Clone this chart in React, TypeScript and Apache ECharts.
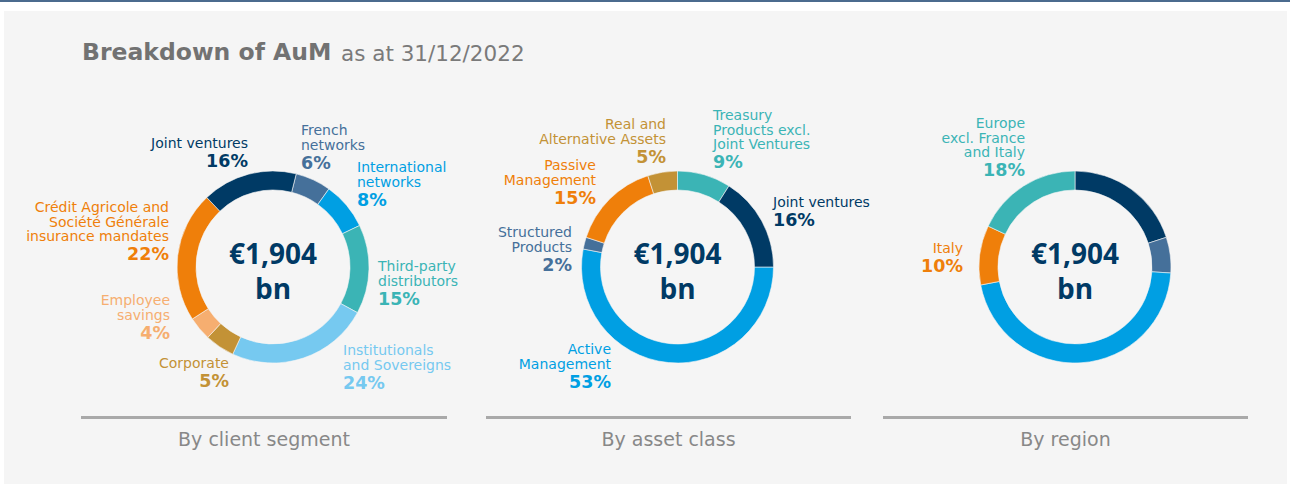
import React, { useEffect, useRef } from "react";
import * as echarts from "echarts";

// ---- data ----
const totalLabel = "€1,904";
const totalUnit = "bn";

const clientNames = [
  "French\nnetworks",
  "International\nnetworks",
  "Third-party\ndistributors",
  "Institutionals\nand Sovereigns",
  "Corporate",
  "Employee\nsavings",
  "Crédit Agricole and\nSociété Générale\ninsurance mandates",
  "Joint ventures",
];
const clientValues = [6, 8, 15, 24, 5, 4, 22, 16];

const assetNames = [
  "Active\nManagement",
  "Structured\nProducts",
  "Passive\nManagement",
  "Real and\nAlternative Assets",
  "Treasury\nProducts excl.\nJoint Ventures",
  "Joint ventures",
];
const assetValues = [53, 2, 15, 5, 9, 16];

const regionNames = ["Asia", "Rest of the world", "France", "Italy", "Europe\nexcl. France\nand Italy"];
const regionValues = [20, 6, 46, 10, 18];
const regionLabelShown = [false, false, false, true, true];

const panelTitles = ["By client segment", "By asset class", "By region"];

// ---- styles ----
const NAVY = "#003a65";
const GREYBLUE = "#45709a";
const BLUE = "#009fe3";
const TEAL = "#3bb4b5";
const LIGHTBLUE = "#76c9f0";
const GOLD = "#c39236";
const LIGHTORANGE = "#f6ae70";
const ORANGE = "#ef7f0a";

const clientColors = [GREYBLUE, BLUE, TEAL, LIGHTBLUE, GOLD, LIGHTORANGE, ORANGE, NAVY];
const assetColors = [BLUE, GREYBLUE, ORANGE, GOLD, TEAL, NAVY];
const regionColors = [NAVY, GREYBLUE, BLUE, ORANGE, TEAL];

// label anchors: [x, top y, align]
const clientLabelPos: [number, number, string][] = [
  [301, 123, "left"],
  [357, 160, "left"],
  [378, 259, "left"],
  [343, 343, "left"],
  [229, 356, "right"],
  [170, 293, "right"],
  [169, 200, "right"],
  [248, 136, "right"],
];
const assetLabelPos: [number, number, string][] = [
  [611, 342, "right"],
  [572, 225, "right"],
  [596, 158, "right"],
  [666, 117, "right"],
  [713, 108, "left"],
  [773, 195, "left"],
];
const regionLabelPos: [number, number, string][] = [
  [0, 0, "left"],
  [0, 0, "left"],
  [0, 0, "left"],
  [963, 241, "right"],
  [1025, 116, "right"],
];

const FONT = "'DejaVu Sans', 'Noto Sans', sans-serif";
const CENTER_FONT = "'Open Sans', 'Noto Sans', sans-serif";
const centers = [
  [273, 267],
  [677.5, 267],
  [1075, 267],
];
const R_OUT = 96;
const R_IN = 77;

function buildData(names: string[], values: number[], colors: string[], shown?: boolean[]) {
  return names.map((n, i) => {
    const lines = n.split("\n").map((l) => `{n|${l}}`).join("\n");
    return {
      name: n,
      value: values[i],
      itemStyle: { color: colors[i] },
      label: {
        show: shown ? shown[i] : true,
        formatter: `${lines}\n{p|${values[i]}%}`,
        color: colors[i],
        rich: {
          n: { fontSize: 14, lineHeight: 14.5, color: colors[i], fontFamily: FONT },
          p: { fontSize: 17.5, lineHeight: 21, fontWeight: "bold", color: colors[i], fontFamily: FONT },
        },
      },
    };
  });
}

function pieSeries(idx: number, data: any[], startAngle: number, pos: [number, number, string][]) {
  return {
    type: "pie",
    center: centers[idx],
    radius: [R_IN, R_OUT],
    startAngle,
    clockwise: true,
    avoidLabelOverlap: false,
    silent: true,
    itemStyle: { borderColor: "#f5f5f5", borderWidth: 0.6 },
    label: { position: "outside", fontFamily: FONT },
    labelLine: { show: false },
    labelLayout: (params: any) => {
      const p = pos[params.dataIndex];
      return { x: p[0], y: p[1], align: p[2], verticalAlign: "top" };
    },
    data,
  };
}

export default function App() {
  const ref = useRef<HTMLDivElement>(null);
  useEffect(() => {
    if (!ref.current) return;
    const chart = echarts.init(ref.current, undefined, { renderer: "svg" });
    const lineSpans = [
      [81, 447],
      [486, 851],
      [883, 1248],
    ];
    const graphic: any[] = [
      { type: "rect", z: -10, shape: { x: 0, y: 0, width: 1290, height: 2 }, style: { fill: "#4b6b8e" } },
      { type: "rect", z: -10, shape: { x: 4, y: 11, width: 1283, height: 473 }, style: { fill: "#f5f5f5" } },
      {
        type: "text",
        x: 82,
        y: 52,
        style: {
          text: "Breakdown of AuM",
          verticalAlign: "middle",
          fontSize: 23.5,
          fontWeight: "bold",
          fill: "#727272",
          fontFamily: FONT,
        },
      },
      {
        type: "text",
        x: 341,
        y: 53,
        style: {
          text: "as at 31/12/2022",
          verticalAlign: "middle",
          fontSize: 21.5,
          fill: "#7a7a7a",
          fontFamily: FONT,
        },
      },
    ];
    lineSpans.forEach((s, i) => {
      graphic.push({
        type: "rect",
        shape: { x: s[0], y: 416, width: s[1] - s[0], height: 3 },
        style: { fill: "#a9a9a9" },
      });
      graphic.push({
        type: "text",
        x: (s[0] + s[1]) / 2,
        y: 439,
        style: {
          text: panelTitles[i],
          align: "center",
          verticalAlign: "middle",
          fontSize: 19,
          fill: "#888888",
          fontFamily: FONT,
        },
      });
    });
    centers.forEach((c) => {
      graphic.push({
        type: "text",
        x: c[0],
        y: c[1] - 14,
        z: 10,
        style: {
          text: totalLabel,
          align: "center",
          verticalAlign: "middle",
          fontSize: 28,
          fontWeight: "bold",
          fill: NAVY,
          fontFamily: CENTER_FONT,
        },
      });
      graphic.push({
        type: "text",
        x: c[0],
        y: c[1] + 21,
        z: 10,
        style: {
          text: totalUnit,
          align: "center",
          verticalAlign: "middle",
          fontSize: 28,
          fontWeight: "bold",
          fill: NAVY,
          fontFamily: CENTER_FONT,
        },
      });
    });

    chart.setOption({
      animation: false,
      backgroundColor: "#ffffff",
      graphic,
      series: [
        pieSeries(0, buildData(clientNames, clientValues, clientColors), 76, clientLabelPos),
        pieSeries(1, buildData(assetNames, assetValues, assetColors), 0, assetLabelPos),
        pieSeries(2, buildData(regionNames, regionValues, regionColors, regionLabelShown), 90, regionLabelPos),
      ],
    });
    return () => chart.dispose();
  }, []);
  return (
    <div style={{ position: "fixed", left: 0, top: 0, width: 1290, height: 486 }}>
      <div ref={ref} style={{ width: 1290, height: 486 }} />
    </div>
  );
}
